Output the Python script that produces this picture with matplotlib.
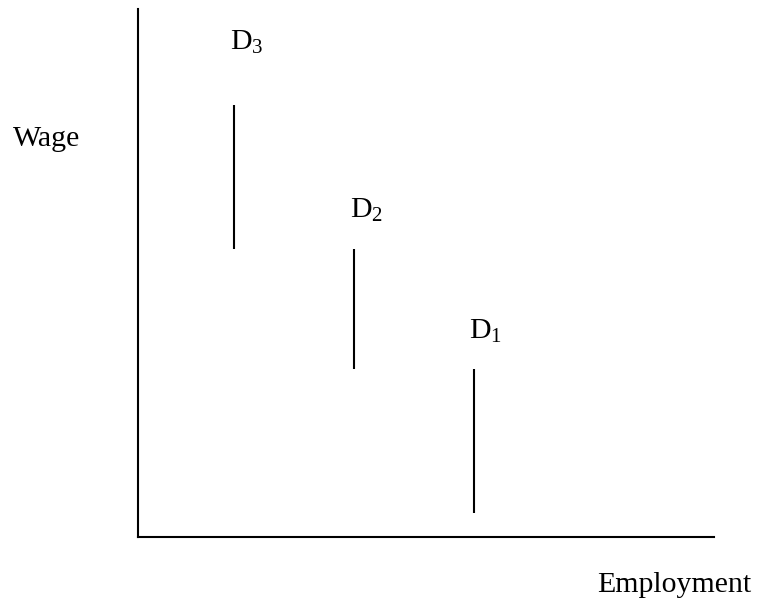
import matplotlib
matplotlib.use("Agg")
from matplotlib import pyplot as plt

# demand curves drawn as vertical segments (employment position, wage low/high)
labels = ["D$_{3}$", "D$_{2}$", "D$_{1}$"]
emp = [2.0, 4.5, 7.0]
wage_low = [6.0, 3.5, 0.5]
wage_high = [9.0, 6.0, 3.5]
label_x = [1.92, 4.42, 6.9]
label_y = [10.15, 6.65, 4.12]

plt.rcParams["font.family"] = ["Liberation Serif", "DejaVu Serif"]
plt.rcParams["mathtext.fontset"] = "custom"
plt.rcParams["mathtext.rm"] = "Liberation Serif"
plt.rcParams["mathtext.it"] = "Liberation Serif"

fig = plt.figure(figsize=(7.6, 6.14), dpi=100)
ax = fig.add_axes([138 / 760, 1 - 537 / 614, 576 / 760, 528 / 614])

for i in range(len(labels)):
	ax.plot([emp[i], emp[i]], [wage_low[i], wage_high[i]], color="black", lw=1.5, solid_capstyle="butt")
	ax.text(label_x[i], label_y[i], labels[i], fontsize=21.5, ha="left", va="baseline")

ax.set_xlim(0, 12)
ax.set_ylim(0, 11)
ax.spines["top"].set_visible(False)
ax.spines["right"].set_visible(False)
ax.spines["left"].set_linewidth(1.5)
ax.spines["bottom"].set_linewidth(1.5)
ax.set_xticks([])
ax.set_yticks([])

fig.text(13 / 760, 1 - 146 / 614, "Wage", fontsize=21.5, ha="left", va="baseline")
fig.text(597 / 760, 1 - 592 / 614, "Employment", fontsize=21.5, ha="left", va="baseline")

fig.savefig("out.png", dpi=100)
